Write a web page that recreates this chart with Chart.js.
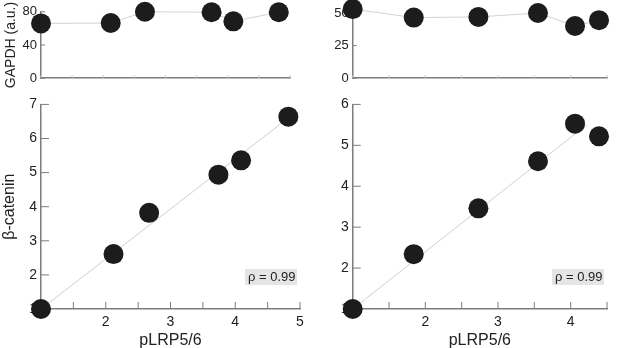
<!DOCTYPE html>
<html>
<head>
<meta charset="utf-8">
<script src="https://cdn.jsdelivr.net/npm/chart.js@4.4.1/dist/chart.umd.min.js"></script>
<style>
  html, body { margin: 0; padding: 0; background: #fff; overflow: hidden; }
  #wrap { position: relative; width: 617px; height: 348px; overflow: hidden; }
  canvas { position: absolute; }
</style>
</head>
<body>
<div id="wrap">
  <canvas id="gapdh-a" width="300" height="90" style="left:0;top:0"></canvas>
  <canvas id="gapdh-b" width="307" height="90" style="left:310px;top:0"></canvas>
  <canvas id="bcat-a" width="310" height="262" style="left:0;top:92px"></canvas>
  <canvas id="bcat-b" width="307" height="262" style="left:310px;top:92px"></canvas>
</div>
<script>
// left panel data
const lrpA = [1, 2.12, 2.67, 3.74, 4.09, 4.82];
const bcatA = [1, 2.61, 3.82, 4.94, 5.36, 6.64];
const gapdhA = [66, 66.5, 80, 79.5, 68.5, 79.5];
const fitXA = [1, 4.79];
const fitYA = [1, 6.56];

// right panel data
const lrpB = [1, 1.84, 2.73, 3.55, 4.06, 4.39];
const bcatB = [1, 2.34, 3.46, 4.61, 5.53, 5.22];
const gapdhB = [53, 46.5, 47, 50, 40, 44.5];
const fitXB = [1, 4.22];
const fitYB = [1, 5.5];

// ticks
const xTicksA = [1, 1.5, 2, 2.5, 3, 3.5, 4, 4.5, 5];
const xTicksB = [1, 1.5, 2, 2.5, 3, 3.5, 4, 4.5];
const yTicksA = [1, 2, 3, 4, 5, 6, 7];
const yTicksB = [1, 2, 3, 4, 5, 6];
const gTicksA = [0, 40, 80];
const gTicksB = [0, 25, 50];
const rhoA = 'ρ = 0.99';
const rhoB = 'ρ = 0.99';

const FONT = "'Liberation Sans', Arial, sans-serif";
const NARROW = "'Liberation Sans Narrow', 'Arial Narrow', 'Liberation Sans', Arial, sans-serif";
const DOT = '#1c1c1c';
const AXIS = '#7d7d7d';
const TXT = '#222';

const pts = (xs, ys) => xs.map((x, i) => ({ x: x, y: ys[i] }));

// tick marks drawn inward from the axis lines
const inTicks = {
    id: 'inTicks',
    beforeDatasetsDraw(chart, args, opts) {
        const ctx = chart.ctx;
        ctx.save();
        ['x', 'y'].forEach(id => {
            const s = chart.scales[id];
            const o = opts[id];
            if (!o) return;
            ctx.strokeStyle = o.color;
            ctx.lineWidth = 1;
            s.ticks.forEach(t => {
                const p = s.getPixelForValue(t.value);
                ctx.beginPath();
                if (id === 'x') {
                    ctx.moveTo(p, s.top);
                    ctx.lineTo(p, s.top - o.len);
                } else {
                    ctx.moveTo(s.right, p);
                    ctx.lineTo(s.right + o.len, p);
                }
                ctx.stroke();
            });
        });
        ctx.restore();
    }
};

// correlation label box
const rhoBox = {
    id: 'rhoBox',
    afterDraw(chart, args, opts) {
        if (!opts.text) return;
        const { ctx, chartArea: a } = chart;
        ctx.save();
        ctx.fillStyle = '#e5e5e5';
        ctx.fillRect(a.right - 55, a.bottom - 40, 52, 16);
        ctx.fillStyle = TXT;
        ctx.font = '13px ' + FONT;
        ctx.textBaseline = 'middle';
        ctx.fillText(opts.text, a.right - 52, a.bottom - 31.5);
        ctx.restore();
    }
};

function panel(id, cfg) {
    const dotSet = {
        data: cfg.dots,
        pointRadius: 10,
        pointHoverRadius: 10,
        pointBackgroundColor: DOT,
        pointBorderWidth: 0,
        borderColor: '#d2d2d2',
        borderWidth: 1,
        showLine: cfg.connect,
        clip: false,
        order: 1
    };
    const sets = [dotSet];
    if (cfg.fit) {
        sets.push({
            data: cfg.fit,
            pointRadius: 0,
            showLine: true,
            borderColor: '#cfcfcf',
            borderWidth: 1,
            clip: false,
            order: 2
        });
    }
    return new Chart(document.getElementById(id), {
        type: 'scatter',
        data: { datasets: sets },
        options: {
            responsive: false,
            animation: false,
            layout: { padding: cfg.pad },
            plugins: {
                legend: { display: false },
                tooltip: { enabled: false },
                inTicks: cfg.marks,
                rhoBox: { text: cfg.rho }
            },
            scales: {
                x: {
                    type: 'linear',
                    min: cfg.xMin,
                    max: cfg.xMax,
                    afterBuildTicks: s => { s.ticks = cfg.xTicks.map(v => ({ value: v })); },
                    afterFit: s => { s.height = cfg.xh; },
                    grid: { drawOnChartArea: false, drawTicks: false },
                    border: { color: AXIS, width: 1.5 },
                    ticks: {
                        display: cfg.xLabels,
                        padding: 5,
                        color: TXT,
                        font: { family: FONT, size: 14 },
                        maxRotation: 0,
                        autoSkip: false,
                        callback: v => (Number.isInteger(v) && v > 1) ? String(v) : ''
                    },
                    title: {
                        display: !!cfg.xTitle,
                        text: cfg.xTitle,
                        color: TXT,
                        font: { family: NARROW, size: 16 },
                        padding: { top: 0, bottom: 3.4 }
                    }
                },
                y: {
                    type: 'linear',
                    min: cfg.yMin,
                    max: cfg.yMax,
                    afterBuildTicks: s => { s.ticks = cfg.yTicks.map(v => ({ value: v })); },
                    afterFit: s => { s.width = cfg.yw; },
                    grid: { drawOnChartArea: false, drawTicks: false },
                    border: { color: AXIS, width: 1.5 },
                    ticks: {
                        padding: 4,
                        color: TXT,
                        font: { family: FONT, size: cfg.tickSize }
                    },
                    title: {
                        display: !!cfg.yTitle,
                        text: cfg.yTitle,
                        color: TXT,
                        font: { family: FONT, size: cfg.yTitleSize },
                        padding: { top: cfg.yTitlePad, bottom: 0 }
                    }
                }
            }
        },
        plugins: [inTicks, rhoBox]
    });
}

panel('gapdh-a', {
    dots: pts(lrpA, gapdhA), connect: true,
    xMin: 1, xMax: 5, xTicks: xTicksA, xLabels: false, xh: 9.3,
    yMin: 0, yMax: 80, yTicks: gTicksA, yw: 41, tickSize: 13,
    yTitle: 'GAPDH (a.u.)', yTitleSize: 14, yTitlePad: 3.2,
    pad: { left: 0, right: 10, top: 10.7, bottom: 0 },
    marks: { x: { len: 3, color: '#c4c4c4' }, y: { len: 4, color: AXIS } }
});

panel('gapdh-b', {
    dots: pts(lrpB, gapdhB), connect: true,
    xMin: 1, xMax: 4.5, xTicks: xTicksB, xLabels: false, xh: 9.3,
    yMin: 0, yMax: 50, yTicks: gTicksB, yw: 42.7, tickSize: 13,
    pad: { left: 0, right: 1, top: 13, bottom: 0 },
    marks: { x: { len: 3, color: '#c4c4c4' }, y: { len: 4, color: AXIS } }
});

panel('bcat-a', {
    dots: pts(lrpA, bcatA), connect: false, fit: pts(fitXA, fitYA), rho: rhoA,
    xMin: 1, xMax: 5, xTicks: xTicksA, xLabels: true, xh: 45, xTitle: 'pLRP5/6',
    yMin: 1, yMax: 7, yTicks: yTicksA, yw: 41, tickSize: 14,
    yTitle: 'β-catenin', yTitleSize: 16, yTitlePad: 0,
    pad: { left: 0, right: 7, top: 9.7, bottom: 0 },
    marks: { x: { len: 7, color: AXIS }, y: { len: 8, color: AXIS } }
});

panel('bcat-b', {
    dots: pts(lrpB, bcatB), connect: false, fit: pts(fitXB, fitYB), rho: rhoB,
    xMin: 1, xMax: 4.5, xTicks: xTicksB, xLabels: true, xh: 45, xTitle: 'pLRP5/6',
    yMin: 1, yMax: 6, yTicks: yTicksB, yw: 42.7, tickSize: 14,
    pad: { left: 0, right: 1, top: 10.3, bottom: 0 },
    marks: { x: { len: 7, color: AXIS }, y: { len: 8, color: AXIS } }
});
</script>
</body>
</html>
